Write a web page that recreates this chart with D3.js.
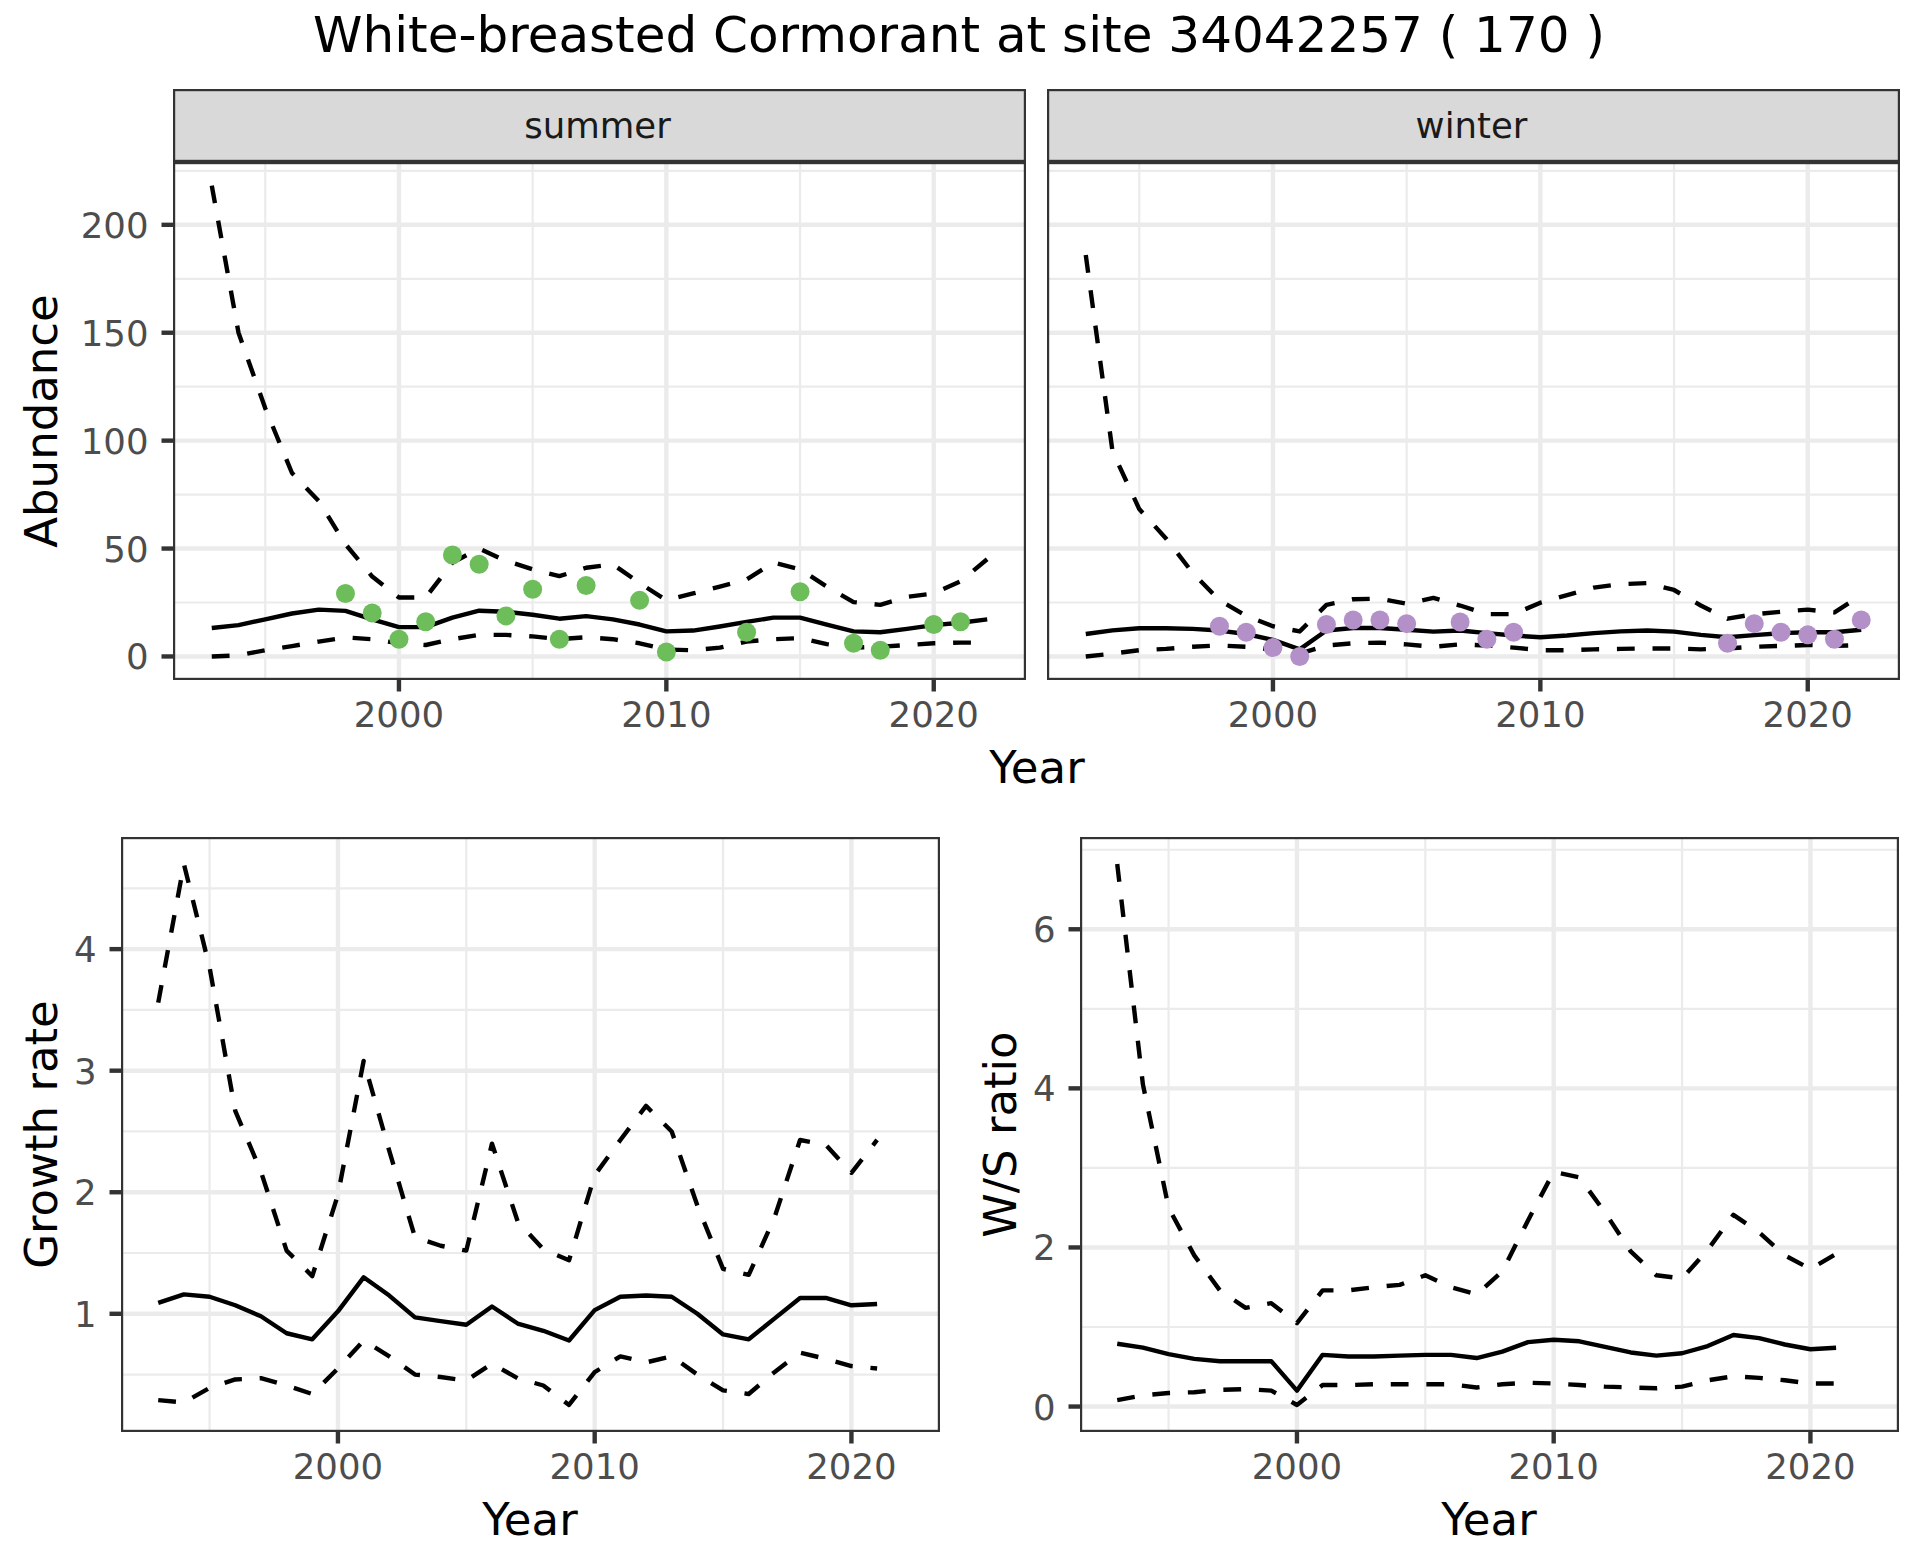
<!DOCTYPE html>
<html lang="en">
<head>
<meta charset="UTF-8">
<title>White-breasted Cormorant at site 34042257</title>
<script src="https://d3js.org/d3.v7.min.js"></script>
<style>
  body { margin: 0; background: #fff; }
  svg { display: block; font-family: "DejaVu Sans", sans-serif; }
  .tick-label { font-size: 35.5px; fill: #4d4d4d; }
  .axis-title { font-size: 45px; fill: #000; }
  .strip-text { font-size: 35.5px; fill: #1a1a1a; }
</style>
</head>
<body>
<svg id="chart" width="1920" height="1560"></svg>
<script>
// ---- data ----
const yearsAbund = [1993,1994,1995,1996,1997,1998,1999,2000,2001,2002,2003,2004,2005,2006,2007,
                    2008,2009,2010,2011,2012,2013,2014,2015,2016,2017,2018,2019,2020,2021,2022];
const yearsRatio = [1993,1994,1995,1996,1997,1998,1999,2000,2001,2002,2003,2004,2005,2006,2007,
                    2008,2009,2010,2011,2012,2013,2014,2015,2016,2017,2018,2019,2020,2021];

const summerMean  = [13.2,14.5,17.2,19.9,21.7,21.1,17.2,13.6,13.6,18.0,21.2,20.7,19.3,17.5,18.7,
                     17.2,14.8,11.6,12.0,13.9,16.0,18.0,18.0,14.8,11.6,11.2,12.8,14.5,15.6,17.2];
const summerUpper = [218.2,150,115,85,72,52,37,27.3,27.3,43.5,50,44.3,40.4,37.2,41.1,
                     42.7,34,26,29.2,32.4,35.6,43.5,40.4,32.4,25.2,23.9,27.6,29.2,34.8,45.1];
const summerLower = [0,0.5,2.9,4.8,6.9,8.8,8.0,6.1,5.3,8.0,10,10,9.3,8.0,8.9,
                     8.0,6.1,3.2,2.9,4.1,6.9,8.0,8.5,5.7,4.1,4.5,5.3,6.1,6.4,6.4];
const summerObsYears = [1998,1999,2000,2001,2002,2003,2004,2005,2006,2007,2009,2010,2013,2015,2017,2018,2020,2021];
const summerObs      = [29.2,20.1,8.0,16.1,47.0,42.7,18.8,31.1,8.0,32.9,26.0,2.1,11.2,30.0,6.1,2.9,14.8,16.1];

const winterMean  = [10.4,12.1,13.1,13.1,12.8,12.0,10.4,7.7,3.3,12.0,13.2,13.2,12.4,11.5,12.0,
                     10.8,9.7,8.9,9.7,10.8,11.6,12.0,11.5,10.0,8.9,9.9,10.8,11.2,11.2,12.4];
const winterUpper = [186,95,68.3,54.7,38.7,26,18.8,14,11.6,23.9,26.5,26.8,24.4,27.1,23.6,
                     19.6,19.6,24.9,28.4,31.9,33.5,34,30.8,23.6,17.5,19.6,20.7,21.7,20.4,28.4];
const winterLower = [0,1.3,2.9,3.5,4.5,5.1,4.5,3.2,1.3,5.1,6.1,6.4,5.6,4.5,5.6,
                     5.1,4.1,2.9,2.9,3.3,3.5,3.7,3.7,3.3,3.7,4.5,4.9,5.3,4.9,5.3];
const winterObsYears = [1998,1999,2000,2001,2002,2003,2004,2005,2007,2008,2009,2017,2018,2019,2020,2021,2022];
const winterObs      = [14.0,11.2,4.1,0,14.8,16.9,16.9,15.2,16.0,8.0,11.2,6.1,15.2,11.2,10.0,8.0,16.9];

const growthMean  = [1.09,1.16,1.14,1.07,0.98,0.84,0.79,1.02,1.30,1.15,0.97,0.94,0.91,1.06,0.92,
                     0.86,0.78,1.03,1.14,1.15,1.14,1.00,0.83,0.79,0.96,1.13,1.13,1.07,1.08];
const growthUpper = [3.56,4.70,3.85,2.67,2.17,1.52,1.31,1.98,3.08,2.34,1.63,1.56,1.52,2.40,1.76,
                     1.53,1.44,2.14,2.43,2.71,2.50,1.89,1.37,1.32,1.79,2.43,2.39,2.16,2.43];
const growthLower = [0.29,0.27,0.39,0.46,0.47,0.41,0.34,0.55,0.78,0.65,0.50,0.48,0.45,0.59,0.47,
                     0.41,0.25,0.52,0.65,0.60,0.65,0.50,0.37,0.34,0.52,0.68,0.63,0.57,0.55];

const ratioMean  = [0.79,0.74,0.66,0.60,0.57,0.57,0.57,0.20,0.65,0.63,0.63,0.64,0.65,0.65,0.61,
                    0.69,0.81,0.84,0.82,0.75,0.68,0.64,0.67,0.76,0.90,0.86,0.78,0.72,0.74];
const ratioUpper = [6.82,4.05,2.50,1.90,1.46,1.24,1.30,1.05,1.46,1.46,1.50,1.53,1.65,1.50,1.41,
                    1.70,2.34,2.95,2.88,2.44,1.95,1.65,1.61,1.97,2.41,2.19,1.90,1.73,1.92];
const ratioLower = [0.08,0.14,0.17,0.18,0.21,0.22,0.20,0.02,0.27,0.27,0.28,0.28,0.28,0.28,0.24,
                    0.28,0.30,0.29,0.27,0.25,0.24,0.23,0.25,0.33,0.38,0.36,0.33,0.29,0.29];

const xMajor = [2000, 2010, 2020];
const xMinor = [1995, 2005, 2015];
const abundMajor = [0, 50, 100, 150, 200];
const abundMinor = [25, 75, 125, 175, 225];
const growthMajor = [1, 2, 3, 4];
const growthMinor = [0.5, 1.5, 2.5, 3.5, 4.5];
const ratioMajor = [0, 2, 4, 6];
const ratioMinor = [1, 3, 5, 7];

const summerColor = "#6dbe5b";
const winterColor = "#b490c8";

// ---- helpers ----
const svg = d3.select("#chart");
const lw = 4.4;

function expand(lo, hi) {
  const pad = (hi - lo) * 0.05;
  return [lo - pad, hi + pad];
}

// x domain shared by every panel (1993..2022 plus 5%)
const xDomain = expand(d3.min(yearsAbund), d3.max(yearsAbund));

function drawPanel(p) {
  const g = svg.append("g");
  const x = d3.scaleLinear().domain(xDomain).range([p.left, p.right]);
  const y = d3.scaleLinear().domain(p.yDomain).range([p.bottom, p.top]);
  const inY = v => v >= p.yDomain[0] && v <= p.yDomain[1];

  // grid
  g.selectAll(".gy-minor").data(p.yMinor.filter(inY)).join("line")
    .attr("x1", p.left).attr("x2", p.right)
    .attr("y1", d => y(d)).attr("y2", d => y(d))
    .attr("stroke", "#ebebeb").attr("stroke-width", lw / 2);
  g.selectAll(".gx-minor").data(xMinor).join("line")
    .attr("y1", p.top).attr("y2", p.bottom)
    .attr("x1", d => x(d)).attr("x2", d => x(d))
    .attr("stroke", "#ebebeb").attr("stroke-width", lw / 2);
  g.selectAll(".gy-major").data(p.yMajor).join("line")
    .attr("x1", p.left).attr("x2", p.right)
    .attr("y1", d => y(d)).attr("y2", d => y(d))
    .attr("stroke", "#ebebeb").attr("stroke-width", lw);
  g.selectAll(".gx-major").data(xMajor).join("line")
    .attr("y1", p.top).attr("y2", p.bottom)
    .attr("x1", d => x(d)).attr("x2", d => x(d))
    .attr("stroke", "#ebebeb").attr("stroke-width", lw);

  // lines
  p.lines.forEach(s => {
    const line = d3.line().x((d, i) => x(s.years[i])).y(d => y(d));
    g.append("path").datum(s.values)
      .attr("d", line)
      .attr("fill", "none")
      .attr("stroke", "#000")
      .attr("stroke-width", lw)
      .attr("stroke-linejoin", "round")
      .attr("stroke-dasharray", s.dashed ? "17.8,17.8" : null);
  });

  // observed points
  if (p.points) {
    g.selectAll(".pt").data(p.points.values).join("circle")
      .attr("cx", (d, i) => x(p.points.years[i]))
      .attr("cy", d => y(d))
      .attr("r", 9.5)
      .attr("fill", p.points.color);
  }

  // border
  g.append("rect")
    .attr("x", p.left + lw / 4).attr("y", p.top + lw / 4)
    .attr("width", p.right - p.left - lw / 2).attr("height", p.bottom - p.top - lw / 2)
    .attr("fill", "none").attr("stroke", "#333").attr("stroke-width", lw / 2);

  // x axis ticks + labels
  g.selectAll(".xt").data(xMajor).join("line")
    .attr("x1", d => x(d)).attr("x2", d => x(d))
    .attr("y1", p.bottom).attr("y2", p.bottom + 11.5)
    .attr("stroke", "#333").attr("stroke-width", lw);
  g.selectAll(".xl").data(xMajor).join("text")
    .attr("class", "tick-label")
    .attr("x", d => x(d)).attr("y", p.bottom + 46.5)
    .attr("text-anchor", "middle")
    .text(d => d);

  // y axis
  if (p.showY) {
    g.selectAll(".yt").data(p.yMajor).join("line")
      .attr("x1", p.left - 11.5).attr("x2", p.left)
      .attr("y1", d => y(d)).attr("y2", d => y(d))
      .attr("stroke", "#333").attr("stroke-width", lw);
    g.selectAll(".yl").data(p.yMajor).join("text")
      .attr("class", "tick-label")
      .attr("x", p.left - 24.5).attr("y", d => y(d))
      .attr("dy", "0.365em")
      .attr("text-anchor", "end")
      .text(d => d);
  }

  // facet strip
  if (p.strip) {
    svg.append("rect")
      .attr("x", p.left + lw / 4).attr("y", p.stripTop + lw / 4)
      .attr("width", p.right - p.left - lw / 2).attr("height", p.top - p.stripTop - lw / 2)
      .attr("fill", "#d9d9d9").attr("stroke", "#333").attr("stroke-width", lw / 2);
    svg.append("text").attr("class", "strip-text")
      .attr("x", (p.left + p.right) / 2 - 2).attr("y", p.stripTop + 49)
      .attr("text-anchor", "middle")
      .text(p.strip);
  }
}

// ---- shared y domains ----
const abundDomain = expand(
  d3.min([...summerLower, ...winterLower, ...summerObs, ...winterObs]),
  d3.max([...summerUpper, ...winterUpper, ...summerObs, ...winterObs]));
const growthDomain = expand(d3.min(growthLower), d3.max(growthUpper));
const ratioDomain = expand(d3.min(ratioLower), d3.max(ratioUpper));

// ---- title ----
svg.append("text")
  .attr("x", 959).attr("y", 52)
  .attr("text-anchor", "middle")
  .style("font-size", "50px")
  .text("White-breasted Cormorant at site 34042257 ( 170 )");

// ---- top row: abundance facets ----
drawPanel({
  left: 173, right: 1026, top: 162, bottom: 680, stripTop: 89,
  strip: "summer", yDomain: abundDomain, yMajor: abundMajor, yMinor: abundMinor, showY: true,
  lines: [
    { years: yearsAbund, values: summerUpper, dashed: true },
    { years: yearsAbund, values: summerLower, dashed: true },
    { years: yearsAbund, values: summerMean }
  ],
  points: { years: summerObsYears, values: summerObs, color: summerColor }
});
drawPanel({
  left: 1047, right: 1900, top: 162, bottom: 680, stripTop: 89,
  strip: "winter", yDomain: abundDomain, yMajor: abundMajor, yMinor: abundMinor, showY: false,
  lines: [
    { years: yearsAbund, values: winterUpper, dashed: true },
    { years: yearsAbund, values: winterLower, dashed: true },
    { years: yearsAbund, values: winterMean }
  ],
  points: { years: winterObsYears, values: winterObs, color: winterColor }
});

// ---- bottom row ----
drawPanel({
  left: 121, right: 940, top: 837, bottom: 1432,
  yDomain: growthDomain, yMajor: growthMajor, yMinor: growthMinor, showY: true,
  lines: [
    { years: yearsRatio, values: growthUpper, dashed: true },
    { years: yearsRatio, values: growthLower, dashed: true },
    { years: yearsRatio, values: growthMean }
  ]
});
drawPanel({
  left: 1080, right: 1899, top: 837, bottom: 1432,
  yDomain: ratioDomain, yMajor: ratioMajor, yMinor: ratioMinor, showY: true,
  lines: [
    { years: yearsRatio, values: ratioUpper, dashed: true },
    { years: yearsRatio, values: ratioLower, dashed: true },
    { years: yearsRatio, values: ratioMean }
  ]
});

// ---- axis titles ----
function axisTitle(x, y, label, rotate) {
  svg.append("text").attr("class", "axis-title")
    .attr("text-anchor", "middle")
    .attr("transform", `translate(${x},${y})` + (rotate ? " rotate(-90)" : ""))
    .text(label);
}
axisTitle(1037, 783, "Year");
axisTitle(57, 421, "Abundance", true);
axisTitle(530, 1535, "Year");
axisTitle(1489, 1535, "Year");
axisTitle(57, 1134.5, "Growth rate", true);
axisTitle(1016, 1134.5, "W/S ratio", true);
</script>
</body>
</html>
